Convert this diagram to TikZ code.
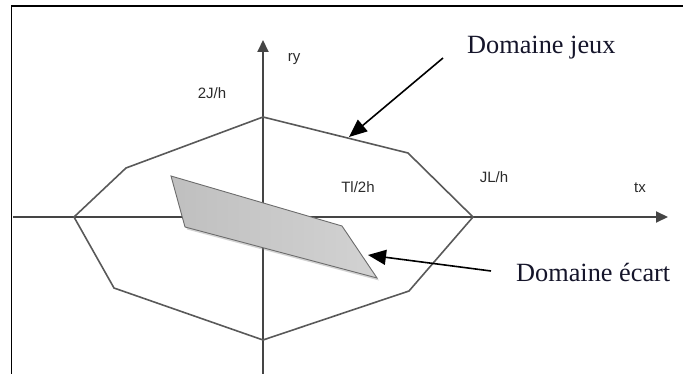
\documentclass[tikz,border=0pt]{standalone}
\usepackage{fontspec}
\setmainfont{Liberation Serif}
\setsansfont{Liberation Sans}
\usetikzlibrary{arrows.meta,shadows}
\definecolor{axisgray}{HTML}{454545}
\definecolor{octgray}{HTML}{595959}
\definecolor{lblgray}{HTML}{2A2A2A}
\definecolor{txtdark}{HTML}{15152A}
\begin{document}
\begin{tikzpicture}[x=1pt,y=-1pt,
  frameline/.style={line width=1.2pt,black},
  axisline/.style={line width=2pt,axisgray,-{Triangle[length=12pt,width=11pt]}},
  octline/.style={line width=1.6pt,octgray,line join=miter},
  pointer/.style={line width=1.6pt,black,-{Triangle[length=18pt,width=15pt]}},
  lbl/.style={font=\sffamily\fontsize{15}{17}\selectfont,text=lblgray,inner sep=0pt},
  big/.style={font=\fontsize{26.3}{30}\selectfont,text=txtdark,inner sep=0pt,anchor=west},
  zone/.style={draw=gray!85!black,line width=0.9pt,left color=gray!50,right color=gray!35,
    drop shadow={opacity=0.35,shadow xshift=2pt,shadow yshift=-2.5pt}}]
\useasboundingbox (0,0) rectangle (683,374);
% frame
\draw[frameline] (11.5,374) -- (11.5,6) -- (683,6);
% axes
\coordinate (xs) at (13,217);
\coordinate (xe) at (668,217);
\coordinate (ys) at (263,374);
\coordinate (ye) at (263,40);
\draw[axisline] (xs) -- (xe);
\draw[axisline] (ys) -- (ye);
% octagon
\coordinate (o1) at (263,117);
\coordinate (o2) at (408,153);
\coordinate (o3) at (473,217);
\coordinate (o4) at (409,291);
\coordinate (o5) at (263,340);
\coordinate (o6) at (114,288);
\coordinate (o7) at (74,217);
\coordinate (o8) at (126,168);
\draw[octline] (o1) -- (o2) -- (o3) -- (o4) -- (o5) -- (o6) -- (o7) -- (o8) -- cycle;
% parallelogram
\coordinate (p1) at (171,176);
\coordinate (p2) at (342,226);
\coordinate (p3) at (377,278);
\coordinate (p4) at (185,227);
\path[zone] (p1) -- (p2) -- (p3) -- (p4) -- cycle;
% labels
\node[lbl] (ry) at (294,59) {ry};
\node[lbl] (j2) at (212,93) {2J/h};
\node[lbl] (tl) at (358,187) {Tl/2h};
\node[lbl] (jl) at (494,177) {JL/h};
\node[lbl] (tx) at (640,188) {tx};
% big labels and pointers
\node[big] (jeux) at (467,48) {Domaine jeux};
\node[big] (ecart) at (516,272) {Domaine écart};
\coordinate (jt) at (443,58);
\coordinate (jh) at (349,137);
\coordinate (et) at (491,271);
\coordinate (eh) at (368,255);
\draw[pointer] (jt) -- (jh);
\draw[pointer] (et) -- (eh);
\end{tikzpicture}
\end{document}
